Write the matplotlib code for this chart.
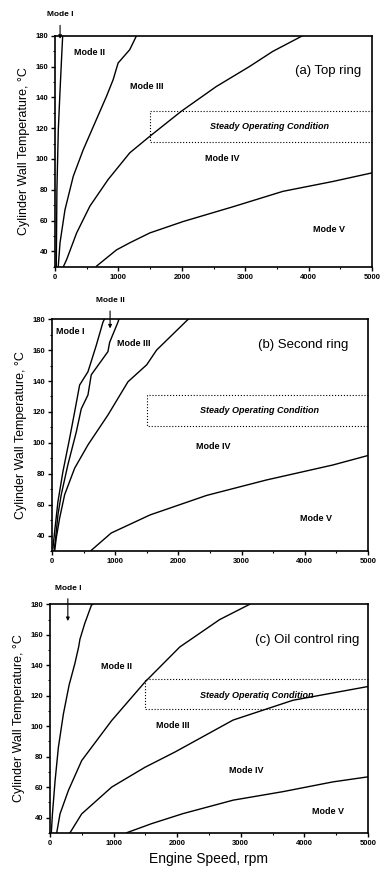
import numpy as np
import matplotlib
matplotlib.use('Agg')
from matplotlib import pyplot as plt
from matplotlib.ticker import MultipleLocator

plt.rcParams['font.family'] = ['Liberation Sans', 'DejaVu Sans']

# (a) top ring - mode boundaries (engine speed rpm, wall temperature C)
a_12_x = [20, 30, 52, 80, 105, 121]
a_12_y = [30, 80, 119, 145, 166.6, 180]
a_23_x = [52, 79, 157, 288, 445, 629, 812, 917, 995, 1179, 1285]
a_23_y = [30.5, 45.6, 67, 88.8, 106, 123.4, 140.7, 151.5, 162.3, 171, 180]
a_34_x = [131, 184, 341, 550, 838, 1179, 1494, 1992, 2542, 3066, 3432, 3904]
a_34_y = [30, 34.8, 52, 69.4, 86.7, 104, 114.7, 131, 147, 160, 169.8, 180]
a_45_x = [656, 970, 1179, 1495, 2020, 2807, 3594, 4381, 5000]
a_45_y = [30.5, 41, 45.6, 52, 59.4, 69, 79, 85.4, 91]

# (b) second ring
b_12_x = [16, 43, 95, 174, 280, 359, 438, 570, 701, 807, 830]
b_12_y = [32, 42.8, 62, 81.5, 103, 120, 137.4, 146, 163, 178, 180]
b_23_x = [32, 52, 95, 147, 253, 385, 464, 570, 622, 886, 913, 1044, 1060]
b_23_y = [30, 36, 53.5, 66.5, 86, 107, 122, 131, 144, 159, 165, 178, 180]
b_34_x = [43, 68, 122, 201, 359, 570, 886, 1203, 1500, 1656, 2158]
b_34_y = [30, 38.5, 51.4, 66.5, 83.6, 98.7, 118, 139.5, 150.5, 160, 180]
b_45_x = [622, 938, 1553, 2447, 3395, 4447, 5000]
b_45_y = [30.5, 41.7, 53.4, 66, 76, 85.7, 91.8]

# (c) oil control ring
c_12_x = [20, 37, 79, 131, 210, 300, 390, 450, 470, 545, 650, 670]
c_12_y = [30, 42, 64, 86, 108, 127, 141, 152, 157, 167.3, 179.3, 180]
c_23_x = [105, 157, 288, 498, 970, 1494, 2042, 2670, 3141]
c_23_y = [30, 42.4, 57.7, 77.4, 103.7, 129, 152, 170, 180]
c_34_x = [314, 498, 970, 1494, 1965, 2880, 3822, 5000]
c_34_y = [30, 42.4, 60, 73, 83, 104, 117, 126]
c_45_x = [1205, 1599, 2094, 2880, 3665, 4450, 5000]
c_45_y = [30, 36, 42.6, 51.4, 57, 63.4, 66.7]

# steady operating window
steady_x = [1500, 5000]
steady_y = [111, 131]

panels = [
    dict(title='(a) Top ring', title_xy=(4830, 157),
         curves=[(a_12_x, a_12_y), (a_23_x, a_23_y), (a_34_x, a_34_y), (a_45_x, a_45_y)],
         modes=[('Mode II', 550, 169), ('Mode III', 1443, 147), ('Mode IV', 2640, 100.5), ('Mode V', 4328, 54)],
         arrow=('Mode I', 80, 193.5, 178),
         steady='Steady Operating Condition', steady_xy=(3390, 121),
         pos=[0.144, 0.694, 0.830, 0.265]),
    dict(title='(b) Second ring', title_xy=(4690, 163),
         curves=[(b_12_x, b_12_y), (b_23_x, b_23_y), (b_34_x, b_34_y), (b_45_x, b_45_y)],
         modes=[('Mode I', 290, 172), ('Mode III', 1290, 164), ('Mode IV', 2553, 97.6), ('Mode V', 4184, 51)],
         arrow=('Mode II', 920, 192, 174),
         steady='Steady Operating Condition', steady_xy=(3290, 120.7),
         pos=[0.136, 0.368, 0.827, 0.266]),
    dict(title='(c) Oil control ring', title_xy=(4870, 156.5),
         curves=[(c_12_x, c_12_y), (c_23_x, c_23_y), (c_34_x, c_34_y), (c_45_x, c_45_y)],
         modes=[('Mode II', 1047, 139), ('Mode III', 1937, 100.7), ('Mode IV', 3089, 71), ('Mode V', 4372, 43.7)],
         arrow=('Mode I', 280, 190.5, 169),
         steady='Steady Operatiq Condition', steady_xy=(3246, 120.4),
         pos=[0.131, 0.045, 0.832, 0.262]),
]

fig = plt.figure(figsize=(3.82, 8.72), dpi=100)

for i, p in enumerate(panels):
    ax = fig.add_axes(p['pos'])
    for cx, cy in p['curves']:
        ax.plot(cx, cy, color='k', lw=1.0, solid_joinstyle='round')
    # steady box (dotted)
    ax.plot([steady_x[1], steady_x[0], steady_x[0], steady_x[1]],
            [steady_y[1], steady_y[1], steady_y[0], steady_y[0]],
            color='k', lw=0.8, ls=':', clip_on=False)
    ax.text(p['steady_xy'][0], p['steady_xy'][1], p['steady'], fontsize=6.5,
            style='italic', fontweight='bold', ha='center', va='center')
    for txt, mx, my in p['modes']:
        ax.text(mx, my, txt, fontsize=6.5, fontweight='bold', ha='center', va='center')
    ax.text(p['title_xy'][0], p['title_xy'][1], p['title'], fontsize=9.5,
            ha='right', va='center')
    lab, ax_x, ty, hy = p['arrow']
    ax.annotate(lab, xy=(ax_x, hy), xytext=(ax_x, ty), fontsize=6, fontweight='bold',
                ha='center', va='center', annotation_clip=False,
                arrowprops=dict(arrowstyle='-|>', color='k', lw=0.8,
                                mutation_scale=5, shrinkA=3, shrinkB=0))

    ax.set_xlim(0, 5000)
    ax.set_ylim(30, 180)
    ax.xaxis.set_major_locator(MultipleLocator(1000))
    ax.xaxis.set_minor_locator(MultipleLocator(500))
    ax.yaxis.set_minor_locator(MultipleLocator(10))
    ax.set_yticks([40, 60, 80, 100, 120, 140, 160, 180])
    ax.tick_params(which='major', direction='out', length=3, width=1, labelsize=5.5, pad=2)
    ax.tick_params(which='minor', direction='out', length=1.5, width=0.8)
    for lbl in ax.get_xticklabels() + ax.get_yticklabels():
        lbl.set_fontweight('bold')
    for s in ax.spines.values():
        s.set_linewidth(1.2)
    ax.set_ylabel('Cylinder Wall Temperature, °C', fontsize=9, labelpad=4)
    if i == 2:
        ax.set_xlabel('Engine Speed, rpm', fontsize=10, labelpad=4)

fig.savefig('out.png', dpi=100)
